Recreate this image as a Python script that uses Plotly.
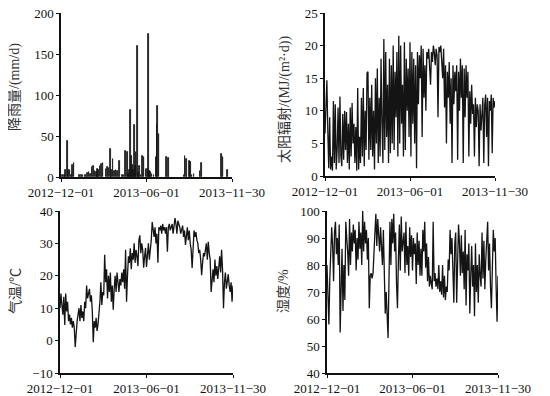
import pandas as pd
import plotly.graph_objects as go

# ---------------- data ----------------
start_date = "2012-12-01"
end_date = "2013-11-30"
tick_dates = ["2012-12-01", "2013-06-01", "2013-11-30"]
tick_text = ["2012\u221212\u221201", "2013\u221206\u221201", "2013\u221211\u221230"]

# rainfall: day offset from 2012-12-01, mm/d
rain_day = [3, 7, 10, 14, 16, 19, 22, 25, 28,
            40, 43, 47, 52, 56, 60, 63, 66, 69, 72, 75, 78, 80, 83, 86, 89,
            96, 99, 102, 105, 108, 111, 114, 117, 120, 124,
            131, 134, 137, 141, 144, 146, 148, 150, 152, 154, 157, 159, 160, 163, 165, 167,
            170, 174, 177, 181, 184, 186, 188, 191, 194, 198, 202, 204, 206, 209,
            225, 229, 262, 264, 267, 273, 276, 279, 283, 296, 299, 342, 345, 355]
rain_mm = [2, 3, 9, 44, 8, 8, 3, 15, 17,
           2, 2, 2, 3, 5, 6, 4, 12, 13, 7, 6, 10, 8, 14, 16, 17,
           10, 12, 11, 34, 9, 22, 7, 8, 7, 20,
           2, 3, 32, 30, 4, 8, 82, 26, 15, 8, 64, 14, 30, 160, 5, 13,
           3, 26, 24, 10, 10, 175, 7, 6, 4, 2, 24, 63, 86, 52,
           24, 23, 2, 26, 22, 19, 18, 3, 4, 7, 17, 28, 24, 9]

# every second day from 2012-12-01 to 2013-11-30
radiation = [6.5, 11, 14.7, 7, 1.2, 9, 1, 3, 0.8, 11.5,
             2, 11, 1, 4, 10.5, 2, 12.2, 3, 1.5, 9.5,
             2.5, 10, 4, 9.8, 2, 8, 1, 10.5, 3, 11.2,
             5, 8, 2, 7.5, 0.8, 13.5, 1, 6, 2, 12,
             3, 13.5, 1.5, 10, 4, 15.8, 16, 2.5, 12, 4,
             14, 3, 10, 1, 15, 5, 16.5, 2, 12, 3,
             18, 8, 2, 21, 4, 19, 6, 14, 2, 18,
             3.5, 17, 5, 20, 4, 16, 9, 19, 3, 21.5,
             5, 20, 8, 14, 3, 20.5, 4, 18, 10, 16.5,
             6, 20.5, 3, 19, 8, 18, 5, 17, 1.2, 19,
             11, 18.5, 15, 20, 6, 19.5, 12, 17, 10, 19,
             18, 19.5, 17, 14, 19, 17.5, 20, 19, 17, 19.5,
             18.5, 9, 19.8, 19, 20, 18, 15, 19.5, 10.5, 17,
             5, 16, 12, 17.5, 8, 15, 2, 17, 11, 16,
             13, 17, 2.5, 16, 10, 18, 12, 17, 2, 16.5,
             9, 17, 12, 16, 3, 13, 8, 14, 9.5, 11,
             3, 12, 7.5, 11, 10, 1.5, 11, 7, 10, 12,
             2, 11, 12.5, 6, 12, 1.5, 11.5, 10, 12.5, 3.5,
             12, 10.5, 11.5]

temperature = [10, 14.5, 11, 8, 13.5, 4.8, 14.5, 9, 12, 6,
               8, 5, 7, 4, 6, 4, -2, 3, 6, 8,
               10, 6, 11, 7, 9, 6, 12, 10, 17, 13,
               15, 16, 12, 14, 9, -0.5, 6, 4, 7, 3,
               5, 8, 12, 18, 11, 15, 14, 26.5, 18, 22,
               13, 20, 15, 21, 12, 17, 9.5, 16, 20, 15,
               21, 18, 15, 19, 17, 21, 18, 22, 16, 28,
               12, 20, 26, 24, 28.5, 22, 27, 25, 30, 24,
               28, 26, 23, 31, 32.5, 27, 30, 28, 22.5, 26,
               28.6, 22.7, 27, 30, 25, 28, 31, 36.6, 34, 32,
               35, 30, 33, 24, 35, 34, 35.5, 33, 36, 34,
               35, 33, 35, 27.4, 35, 36, 34, 35.5, 36, 33,
               36.5, 37.8, 36, 33, 37, 36, 35, 33, 34, 35.5,
               32, 34, 29.5, 33, 35, 31, 34, 30, 28, 22.4,
               30, 34, 32, 33.5, 31, 30, 27, 28, 25, 20.2,
               24, 27, 26, 29, 30, 25, 30.5, 27, 25, 15,
               20, 22, 18, 25, 20, 23, 19, 22, 26, 21,
               28, 22, 10, 18, 21, 16, 19, 20.5, 17, 15,
               18, 12, 17]

humidity = [80, 70, 58, 75, 88, 94, 87, 74, 92, 96,
            84, 90, 80, 95, 55, 72, 86, 63, 80, 67,
            96, 90, 85, 76, 97, 80, 92, 85, 95, 88,
            93, 78, 90, 82, 96, 86, 92, 80, 100, 85,
            96, 88, 93, 82, 90, 64, 76, 77, 75, 77,
            88, 92, 99, 87, 97, 90, 85, 94, 88, 80,
            93, 75, 62, 70, 58, 53, 75, 96, 80, 97,
            88, 99, 85, 92, 73, 64, 82, 95, 78, 98,
            85, 90, 92, 77, 96, 80, 87, 76, 94, 83,
            91, 78, 90, 84, 88, 73, 92, 80, 89, 76,
            86, 76, 93, 85, 96, 79, 88, 74, 83, 72,
            76, 73, 71, 96, 74, 77, 72, 75, 71, 80,
            70, 74, 69, 80, 68, 76, 67, 72, 70, 82,
            78, 93, 84, 90, 79, 66, 88, 92, 66, 85,
            95, 88, 76, 91, 77, 85, 71, 93, 65, 84,
            78, 88, 62, 76, 87, 72, 80, 61, 88, 70,
            80, 66, 84, 76, 72, 92, 75, 89, 71, 82,
            90, 96, 78, 88, 72, 64, 79, 93, 85, 90,
            72, 59, 76]

# ---------------- figure ----------------
OFF = 8  # page body margin in the browser
W, H = 550 - OFF, 396 - OFF
line_dates = pd.date_range(start_date, end_date, freq="2D")
rain_dates = pd.Timestamp(start_date) + pd.to_timedelta(rain_day, unit="D")

INK = "#141414"
fig = go.Figure()
fig.add_trace(go.Bar(x=rain_dates, y=rain_mm, width=1.3 * 86400000,
                     marker=dict(color=INK, line=dict(color=INK, width=0.8)),
                     xaxis="x", yaxis="y", showlegend=False))
fig.add_trace(go.Scatter(x=line_dates, y=radiation, mode="lines",
                         line=dict(color=INK, width=1.3), xaxis="x2", yaxis="y2", showlegend=False))
fig.add_trace(go.Scatter(x=line_dates, y=temperature, mode="lines",
                         line=dict(color=INK, width=1.3), xaxis="x3", yaxis="y3", showlegend=False))
fig.add_trace(go.Scatter(x=line_dates, y=humidity, mode="lines",
                         line=dict(color=INK, width=1.3), xaxis="x4", yaxis="y4", showlegend=False))

tick_font = dict(family="Liberation Serif, Times New Roman, serif", size=13, color="#111")


def px_x(v):
    return (v - OFF) / W


def px_y(v):
    return 1 - (v - OFF) / H


def xax(x0, x1, anchor):
    return dict(domain=[px_x(x0), px_x(x1)], anchor=anchor, type="date", automargin=False,
                range=[start_date, end_date], tickvals=tick_dates, ticktext=tick_text,
                ticklabeloverflow="allow",
                showgrid=False, zeroline=False, showline=True, linecolor="#111", linewidth=1.5,
                ticks="outside", ticklen=3, tickwidth=1, tickcolor="#111", tickfont=tick_font)


def yax(y0, y1, rng, dtick, anchor):
    return dict(domain=[px_y(y1), px_y(y0)], anchor=anchor, range=rng, dtick=dtick,
                automargin=False, ticklabeloverflow="allow",
                showgrid=False, zeroline=False, showline=True, linecolor="#111", linewidth=1.5,
                ticks="outside", ticklen=3, tickwidth=1, tickcolor="#111", tickfont=tick_font)


title_font = dict(family="Liberation Serif, Noto Sans CJK SC, serif", size=14, color="#333")


def ytitle(text, x, y):
    return dict(text=text, x=px_x(x), y=px_y(y), xref="paper", yref="paper",
                xanchor="center", yanchor="middle", textangle=-90,
                showarrow=False, font=title_font)


fig.update_layout(
    template="none",
    width=W, height=H, margin=dict(l=0, r=0, t=0, b=0, pad=0), autosize=False,
    paper_bgcolor="white", plot_bgcolor="white", bargap=0,
    xaxis=xax(61, 232, "y"), yaxis=yax(13, 177, [0, 200], 50, "x"),
    xaxis2=xax(325, 495, "y2"), yaxis2=yax(13, 176, [0, 25], 5, "x2"),
    xaxis3=xax(60, 233, "y3"), yaxis3=yax(211, 373, [-10, 40], 10, "x3"),
    xaxis4=xax(327, 498, "y4"), yaxis4=yax(211, 373, [40, 100], 10, "x4"),
    annotations=[
        ytitle("降雨量/(mm/d)", 15, 87),
        ytitle("太阳辐射/(MJ/(m²·d))", 285, 100),
        ytitle("气温/℃", 15, 291),
        ytitle("湿度/%", 283, 291),
    ],
)

fig.write_html("out.html")
